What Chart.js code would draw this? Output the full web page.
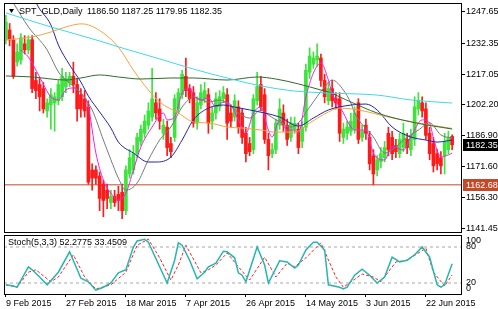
<!DOCTYPE html>
<html lang="en">
<head>
<meta charset="UTF-8" />
<title>SPT_GLD Daily</title>
<style>
  html, body { margin: 0; padding: 0; background: #fff; }
  .wrap { position: relative; width: 498px; height: 309px; overflow: hidden; }
  canvas { position: absolute; left: 0; }
  #priceChart { top: 0; }
  #stochChart { top: 233px; }
</style>
</head>
<body>
<div class="wrap">
  <canvas id="priceChart" width="498" height="233"></canvas>
  <canvas id="stochChart" width="498" height="76"></canvas>
</div>

<script src="https://cdn.jsdelivr.net/npm/chart.js@4.4.0/dist/chart.umd.min.js"></script>
<script>
  const symbol = "SPT_GLD";
  const period = "Daily";

  // daily candles, 9 Feb - 30 Jun 2015 (broker sends Sunday bars)
  const opens = [
    1233.9, 1238.8, 1234.0, 1223.0, 1224.0, 1232.0, 1229.0, 1234.0, 1214.0, 1212.0,
    1210.0, 1199.0, 1202.0, 1203.0, 1204.0, 1206.0, 1211.0, 1213.0, 1216.0, 1212.0,
    1207.0, 1205.0, 1201.0, 1170.0, 1170.0, 1167.0, 1163.0, 1160.0, 1154.0, 1157.0,
    1158.0, 1159.0, 1150.0, 1168.0, 1170.0, 1178.0, 1184.0, 1188.0, 1192.0, 1196.0,
    1203.0, 1200.0, 1188.0, 1191.0, 1183.0, 1186.0, 1200.0, 1207.0, 1216.0, 1210.0,
    1208.0, 1193.0, 1202.0, 1205.0, 1207.0, 1194.0, 1198.0, 1201.0, 1205.0, 1207.0,
    1198.0, 1196.0, 1201.0, 1198.0, 1188.0, 1183.0, 1180.0, 1204.0, 1212.0, 1207.0,
    1185.0, 1178.0, 1180.0, 1192.0, 1198.0, 1192.0, 1186.0, 1190.0, 1190.0, 1184.0,
    1191.0, 1218.0, 1222.0, 1224.0, 1225.0, 1214.0, 1204.0, 1210.0, 1205.0, 1205.0,
    1186.0, 1188.0, 1189.0, 1190.0, 1203.0, 1186.0, 1192.0, 1186.0, 1177.0, 1170.0,
    1174.0, 1176.0, 1188.0, 1186.0, 1182.0, 1178.0, 1181.0, 1185.0, 1180.0, 1185.0,
    1200.0, 1203.0, 1200.0, 1188.0, 1183.0, 1178.0, 1176.0, 1177.0, 1180.0, 1186.5
  ];
  const highs = [
    1246, 1242, 1236, 1232, 1237, 1236, 1236, 1236, 1218, 1215,
    1213, 1205, 1210, 1208, 1214, 1220, 1218, 1218, 1223, 1215,
    1210, 1209, 1204, 1173, 1172, 1169, 1165, 1163, 1160, 1160,
    1162, 1163, 1172, 1180, 1182, 1188, 1192, 1197, 1203, 1220,
    1208, 1205, 1195, 1194, 1186, 1207, 1210, 1219, 1225, 1212,
    1211, 1206, 1212, 1213, 1210, 1201, 1208, 1209, 1211, 1210,
    1202, 1207, 1204, 1200, 1191, 1186, 1207, 1218, 1216, 1210,
    1188, 1183, 1195, 1205, 1202, 1195, 1196, 1196, 1193, 1194,
    1222, 1230, 1228, 1232, 1227, 1217, 1213, 1214, 1208, 1208,
    1193, 1194, 1198, 1201, 1205, 1192, 1195, 1189, 1180, 1177,
    1181, 1184, 1191, 1189, 1185, 1188, 1193, 1188, 1190, 1206,
    1208, 1206, 1203, 1191, 1186, 1180, 1179, 1188, 1189, 1187.25
  ];
  const lows = [
    1232, 1231, 1215, 1221, 1222, 1227, 1227, 1208, 1205, 1199,
    1198, 1196, 1190, 1189, 1202, 1204, 1208, 1211, 1208, 1194,
    1196, 1196, 1163, 1160, 1163, 1150, 1147, 1151, 1151, 1152,
    1150, 1146, 1148, 1166, 1168, 1176, 1182, 1186, 1190, 1194,
    1195, 1190, 1185, 1177, 1176, 1184, 1198, 1205, 1206, 1203,
    1191, 1190, 1200, 1203, 1188, 1190, 1195, 1199, 1203, 1185,
    1191, 1194, 1188, 1183, 1174, 1177, 1178, 1202, 1199, 1183,
    1170, 1176, 1178, 1190, 1189, 1182, 1184, 1188, 1178, 1181,
    1189, 1215, 1220, 1221, 1211, 1203, 1202, 1201, 1200, 1184,
    1183, 1185, 1187, 1188, 1183, 1184, 1185, 1170, 1162.68, 1167,
    1171, 1174, 1177, 1175, 1176, 1176, 1179, 1178, 1177, 1182,
    1197, 1196, 1185, 1175, 1169, 1170, 1168, 1168, 1178, 1179.95
  ];
  const closes = [
    1242.7, 1233.9, 1216, 1228, 1235, 1229, 1234, 1210, 1209, 1206,
    1200, 1203, 1207, 1206, 1212, 1216, 1215, 1216, 1212, 1200,
    1200, 1199, 1164, 1166, 1166, 1156, 1155, 1156, 1157, 1154,
    1155, 1150, 1170, 1176, 1178, 1186, 1190, 1194, 1199, 1205,
    1198, 1194, 1192, 1181, 1179, 1205, 1208, 1217, 1209, 1205,
    1193, 1203, 1208, 1209, 1193, 1198, 1205, 1206, 1208, 1193,
    1194, 1204, 1191, 1186, 1178, 1179, 1205, 1211, 1201, 1185,
    1177, 1180, 1193, 1200, 1192, 1185, 1193, 1193, 1181, 1191,
    1219, 1226, 1225, 1226, 1214, 1206, 1210, 1204, 1203, 1188,
    1190, 1191, 1194, 1198, 1185, 1189, 1188, 1173, 1168, 1175,
    1178, 1181, 1180, 1178, 1179, 1185, 1188, 1181, 1187, 1201,
    1204, 1199, 1187, 1178, 1172, 1173, 1172, 1184, 1186, 1182.35
  ];

  // moving averages as [bar, price]
  const maCyan = [[0,1247.2],[12,1240.3],[25,1233.4],[30,1230.5],[41,1224.6],[50,1219.6],[59,1215.2],[68,1211.3],[77,1208.8],[86,1207.8],[99,1206.8],[108,1204.4],[119,1202.9]];
  const maGreen = [[0,1216.2],[7,1215.7],[16,1214.2],[20,1215.2],[25,1216.7],[30,1215.7],[36,1214.7],[44,1215.2],[50,1215.2],[59,1214.2],[67,1215.7],[72,1214.7],[78,1212.3],[84,1209.3],[86,1208.3],[92,1203.4],[99,1198.0],[108,1193.6],[119,1190.1]];
  const maOrange = [[0,1233.9],[7,1235.4],[12,1237.8],[16,1240.3],[20,1241.8],[22,1241.3],[26,1237.3],[30,1230.4],[34,1219.1],[38,1209.3],[41,1203.4],[46,1198.0],[50,1193.6],[54,1193.1],[59,1191.1],[63,1190.6],[68,1189.6],[72,1188.6],[77,1188.6],[81,1193.1],[86,1198.5],[89,1200.4],[94,1199.5],[102,1196.0],[110,1193.1],[119,1190.4]];
  const maNavy = [[7,1258.5],[8,1252.6],[12,1241.3],[14,1231.4],[17,1221.6],[20,1213.2],[22,1206.3],[25,1198.5],[28,1190.6],[30,1183.7],[34,1178.3],[38,1173.9],[40,1173.9],[44,1176.3],[47,1184.7],[50,1194.6],[54,1200.4],[58,1201.9],[61,1200.9],[65,1199.5],[73,1196.0],[78,1191.6],[82,1195.5],[86,1199.5],[92,1201.9],[96,1202.4],[99,1199.5],[103,1191.1],[108,1186.2],[112,1184.7],[115,1183.7],[119,1184.7]];
  const maGray = [[2,1252.1],[6,1240.3],[11,1229.0],[14,1218.2],[16,1214.2],[20,1207.8],[23,1199.5],[26,1184.7],[28,1175.0],[30,1166.0],[32,1160.1],[35,1163.6],[38,1174.9],[41,1184.7],[44,1191.1],[47,1200.9],[50,1205.9],[54,1203.4],[57,1204.4],[60,1201.4],[62,1198.0],[65,1195.5],[68,1199.5],[70,1197.0],[73,1193.6],[76,1191.1],[78,1193.1],[81,1200.9],[85,1210.8],[87,1214.2],[90,1209.3],[92,1202.9],[93,1198.0],[98,1186.2],[101,1178.3],[104,1181.3],[106,1184.7],[110,1189.6],[113,1193.1],[116,1187.2],[119,1185.7]];
  const maMagenta = [[4,1229.0],[6,1225.5],[9,1215.7],[12,1205.9],[14,1204.4],[16,1209.3],[18,1210.3],[20,1207.8],[22,1200.9],[24,1178.3],[26,1165.0],[28,1158.6],[30,1155.2],[32,1158.6],[34,1169.9],[36,1181.3],[39,1191.1],[42,1198.0],[43,1194.6],[45,1196.0],[47,1207.8],[49,1210.3],[50,1206.8],[52,1204.4],[54,1205.4],[56,1200.9],[58,1203.4],[60,1201.9],[62,1194.6],[64,1188.1],[66,1198.0],[68,1200.9],[70,1189.6],[71,1186.2],[73,1194.6],[75,1189.6],[77,1189.6],[78,1188.1],[80,1205.9],[82,1217.6],[84,1222.6],[86,1214.2],[87,1207.8],[90,1198.0],[92,1191.1],[93,1189.6],[96,1189.6],[98,1178.3],[101,1174.9],[103,1181.3],[106,1179.8],[108,1186.2],[111,1194.6],[113,1193.1],[114,1185.7],[116,1176.4],[118,1177.4],[119,1178.3]];

  // Stoch(5,3,3) main and signal, [bar, value]
  const stochParams = [5, 3, 3];
  const stochK = [[0,17],[2,15],[3,13],[6,47],[7,42],[9,30],[11,17],[14,38],[17,72],[20,28],[22,22],[24,8],[26,13],[28,20],[30,37],[32,42],[34,80],[35,90],[37,93],[38,88],[41,47],[43,20],[45,58],[46,87],[47,83],[49,58],[51,27],[53,38],[54,47],[56,53],[58,73],[59,72],[61,62],[62,37],[63,33],[64,22],[67,80],[69,50],[70,20],[73,57],[75,55],[77,45],[78,50],[80,75],[82,88],[83,88],[85,75],[86,17],[89,13],[90,10],[91,13],[93,33],[95,43],[97,33],[99,20],[101,30],[103,63],[105,55],[107,58],[109,67],[111,80],[113,63],[114,40],[115,17],[116,13],[117,17],[119,52.2775]];
  const stochD = [[0,17],[3,13],[6,38],[8,42],[12,22],[14,30],[18,67],[21,30],[24,10],[28,17],[32,38],[35,83],[38,93],[41,62],[44,25],[46,50],[48,83],[52,37],[54,42],[56,50],[59,70],[62,47],[65,25],[69,63],[72,30],[75,53],[77,47],[80,62],[84,87],[88,30],[90,13],[95,35],[98,30],[100,22],[104,55],[107,58],[112,78],[114,38],[117,15],[119,33.4509]];
  const stochLevels = [20, 80];

  const levelPrice = 1162.68;
  const priceTicks = [1247.65, 1232.35, 1217.05, 1202.20, 1186.90, 1171.60, 1156.30, 1141.45];
  const dateTicks = ["9 Feb 2015", "27 Feb 2015", "18 Mar 2015", "7 Apr 2015", "26 Apr 2015", "14 May 2015", "3 Jun 2015", "22 Jun 2015"];

  // bar dates: no Saturday bars, plus the two days the feed skipped
  const monthNames = ["Jan","Feb","Mar","Apr","May","Jun","Jul","Aug","Sep","Oct","Nov","Dec"];
  const closedDays = ["2015-04-03", "2015-05-25"];
  const dates = [];
  for (let d = new Date(Date.UTC(2015, 1, 9)); dates.length < closes.length; d.setUTCDate(d.getUTCDate() + 1)) {
    if (d.getUTCDay() === 6) continue;
    if (closedDays.includes(d.toISOString().slice(0, 10))) continue;
    dates.push(`${d.getUTCDate()} ${monthNames[d.getUTCMonth()]} ${d.getUTCFullYear()}`);
  }

  const BULL = "#3ee33e";
  const BEAR = "#ff1a1a";
  const LEVEL_COLOR = "#c24a2a";
  const AXIS_W = 36;
  const FONT = '9px "Liberation Sans", Arial, sans-serif';
  const xMin = -0.5, xMax = 121.63;

  Chart.defaults.font.family = '"Liberation Sans", Arial, sans-serif';
  Chart.defaults.font.size = 9;
  Chart.defaults.color = "#000";
  Chart.defaults.animation = false;
  Chart.defaults.plugins.legend.display = false;
  Chart.defaults.plugins.tooltip.enabled = false;

  const fmt2 = (v) => v.toFixed(2);
  const candleColors = closes.map((c, i) => (c >= opens[i] ? BULL : BEAR));
  const toPoints = (arr) => arr.map(([x, y]) => ({ x, y }));
  const flat = (v) => [{ x: xMin, y: v }, { x: xMax, y: v }];

  function maLine(data, color) {
    return {
      type: "line",
      data: toPoints(data),
      borderColor: color,
      borderWidth: 1,
      pointRadius: 0,
      cubicInterpolationMode: "monotone",
      order: 1,
    };
  }

  // frame, caption and axis price tags
  const priceOverlay = {
    id: "priceOverlay",
    afterDraw(chart) {
      const { ctx, chartArea: a, scales: { y } } = chart;
      const last = closes.length - 1;
      ctx.save();
      ctx.strokeStyle = "#000";
      ctx.lineWidth = 1;
      ctx.strokeRect(a.left + 0.5, a.top + 0.5, a.right - a.left - 1, a.bottom - a.top - 1);

      ctx.font = FONT;
      ctx.textBaseline = "middle";
      ctx.fillStyle = "#000";
      ctx.beginPath();
      ctx.moveTo(9, 9);
      ctx.lineTo(14, 9);
      ctx.lineTo(11.5, 13);
      ctx.closePath();
      ctx.fill();
      ctx.fillText(`${symbol},${period}`, 19, 11.5);
      ctx.fillText([opens[last], highs[last], lows[last], closes[last]].map(fmt2).join(" "), 87, 11.5);

      [[levelPrice, LEVEL_COLOR], [closes[last], "#000"]].forEach(([v, bg]) => {
        const py = Math.round(y.getPixelForValue(v));
        ctx.fillStyle = bg;
        ctx.fillRect(a.right + 1, py - 6, chart.width - a.right - 1, 12);
        ctx.fillStyle = "#fff";
        ctx.fillText(fmt2(v), a.right + 4, py + 0.5);
      });
      ctx.restore();
    },
  };

  const stochOverlay = {
    id: "stochOverlay",
    afterDraw(chart) {
      const { ctx, chartArea: a, scales: { y } } = chart;
      ctx.save();
      ctx.strokeStyle = "#000";
      ctx.lineWidth = 1;
      ctx.strokeRect(a.left + 0.5, a.top + 0.5, a.right - a.left - 1, a.bottom - a.top - 1);
      ctx.font = FONT;
      ctx.textBaseline = "middle";
      ctx.fillStyle = "#000";
      const k = stochK[stochK.length - 1][1];
      const d = stochD[stochD.length - 1][1];
      ctx.fillText(`Stoch(${stochParams.join(",")}) ${k.toFixed(4)} ${d.toFixed(4)}`, 8, a.top + 8);
      // MT4 pulls the 100 / 0 labels inside the panel
      ctx.fillText("100", a.right + 4, y.getPixelForValue(100) + 5.5);
      ctx.fillText("0", a.right + 4, y.getPixelForValue(0) - 6);
      ctx.restore();
    },
  };

  new Chart(document.getElementById("priceChart"), {
    type: "bar",
    data: {
      datasets: [
        {
          type: "line",
          data: flat(levelPrice),
          borderColor: LEVEL_COLOR,
          borderWidth: 1,
          pointRadius: 0,
          order: 5,
        },
        {
          label: "wick",
          data: lows.map((l, i) => ({ x: i, y: [l, highs[i]] })),
          backgroundColor: candleColors,
          barThickness: 1,
          grouped: false,
          order: 4,
        },
        {
          label: "body",
          data: opens.map((o, i) => ({ x: i, y: [o, closes[i]] })),
          backgroundColor: candleColors,
          barThickness: 3,
          grouped: false,
          order: 3,
        },
        maLine(maCyan, "#3fd8e8"),
        maLine(maGreen, "#2f6b2f"),
        maLine(maOrange, "#f2a43a"),
        maLine(maNavy, "#2424a8"),
        maLine(maGray, "#7a7a7a"),
        maLine(maMagenta, "#ee22ee"),
      ],
    },
    options: {
      responsive: false,
      layout: { padding: { left: 4, top: 3, right: 0, bottom: 0 } },
      scales: {
        x: { type: "linear", min: xMin, max: xMax, offset: false, display: false },
        y: {
          position: "right",
          min: 1139.0,
          max: 1252.07,
          afterFit: (s) => {
            s.width = AXIS_W;
            s.paddingTop = 0;
            s.paddingBottom = 0;
          },
          afterBuildTicks: (s) => {
            s.ticks = priceTicks.map((v) => ({ value: v }));
          },
          ticks: { callback: (v) => fmt2(v), padding: 1, color: "#000" },
          grid: { drawOnChartArea: false, tickLength: 3, color: "#000" },
          border: { display: false },
        },
      },
    },
    plugins: [priceOverlay],
  });

  new Chart(document.getElementById("stochChart"), {
    type: "line",
    data: {
      datasets: [
        ...stochLevels.map((v) => ({
          data: flat(v),
          borderColor: "#a8a8a8",
          borderWidth: 1,
          borderDash: [3, 3],
          pointRadius: 0,
          order: 3,
        })),
        {
          data: toPoints(stochD),
          borderColor: "#ff2020",
          borderWidth: 1,
          borderDash: [3, 2],
          pointRadius: 0,
          order: 2,
        },
        {
          data: toPoints(stochK),
          borderColor: "#27b5b0",
          borderWidth: 1.5,
          pointRadius: 0,
          order: 1,
        },
      ],
    },
    options: {
      responsive: false,
      layout: { padding: { left: 4, top: 2, right: 0, bottom: 0 } },
      scales: {
        x: {
          type: "linear",
          min: xMin,
          max: xMax,
          offset: false,
          afterFit: (s) => {
            s.height = 14;
            s.paddingLeft = 0;
            s.paddingRight = 0;
          },
          afterBuildTicks: (s) => {
            s.ticks = dateTicks.map((t) => ({ value: dates.indexOf(t) })).filter((t) => t.value >= 0);
          },
          ticks: {
            callback: (v) => dates[v],
            align: "start",
            autoSkip: false,
            maxRotation: 0,
            padding: 1,
            color: "#000",
          },
          grid: { drawOnChartArea: false, tickLength: 2, color: "#000" },
          border: { display: false },
        },
        y: {
          position: "right",
          min: 0,
          max: 100,
          afterFit: (s) => {
            s.width = AXIS_W;
            s.paddingTop = 0;
            s.paddingBottom = 0;
          },
          afterBuildTicks: (s) => {
            s.ticks = stochLevels.map((v) => ({ value: v }));
          },
          ticks: { padding: 4, color: "#000" },
          grid: { drawOnChartArea: false, drawTicks: false },
          border: { display: false },
        },
      },
    },
    plugins: [stochOverlay],
  });
</script>
</body>
</html>
